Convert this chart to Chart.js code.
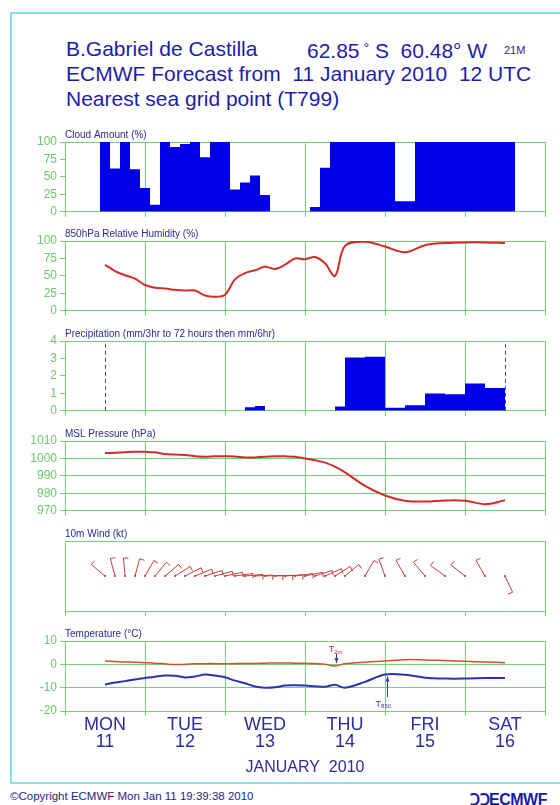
<!DOCTYPE html>
<html>
<head>
<meta charset="utf-8">
<title>ECMWF meteogram - B.Gabriel de Castilla</title>
<script src="https://cdn.jsdelivr.net/npm/chart.js@4.4.1/dist/chart.umd.min.js"></script>
<style>
  body { margin: 0; background: #fff; font-family: "Liberation Sans", Arial, sans-serif; }
  #page { position: relative; width: 560px; height: 805px; overflow: hidden; background: #fff; }
  #frame { position: absolute; left: 10px; top: 12px; width: 600px; height: 772px;
           border: 2px solid #88e2ea; box-sizing: border-box; }
  .hdr { position: absolute; font-size: 21px; line-height: 25px; color: #1d1da8; white-space: pre; }
  canvas { position: absolute; left: 0; }
  #copy { position: absolute; left: 10px; top: 790px; font-size: 11.5px; color: #1e1e7e; white-space: pre; }
  #logo { position: absolute; left: 470px; top: 788px; font-size: 16px; font-weight: bold;
          color: #1a1aa8; letter-spacing: -0.5px; }
</style>
</head>
<body>
<div id="page">
  <div id="frame"></div>
  <div class="hdr" style="left:66px; top:36px">B.Gabriel de Castilla</div>
  <div class="hdr" style="left:307px; top:36px">62.85<span style="font-size:14px; vertical-align:5px"> °</span> S  60.48° W</div>
  <div class="hdr" style="left:504px; top:38px; font-size:11px">21M</div>
  <div class="hdr" style="left:66px; top:61px">ECMWF Forecast from  11 January 2010  12 UTC</div>
  <div class="hdr" style="left:66px; top:86px">Nearest sea grid point (T799)</div>
  <div id="copy">©Copyright ECMWF Mon Jan 11 19:39:38 2010</div>
  <div id="logo">ↃↃECMWF</div>
</div>

<script>
// Meteogram values

// forecast steps (hours from 11 Jan 12 UTC): 3-hourly to 72h, then 6-hourly
const steps = [0, 3, 6, 9, 12, 15, 18, 21, 24, 27, 30, 33, 36, 39, 42, 45, 48, 51, 54, 57, 60,
  63, 66, 69, 72, 78, 84, 90, 96, 102, 108, 114, 120];
const BASE_HOUR = 12; // x axis counts hours from Mon 11 00 UTC

const cloudAmount = [100, 62, 100, 61, 34, 10, 100, 93, 97, 100, 78, 100, 100, 32, 42, 52, 24,
  0, 0, 0, 0, 7, 63, 100, 100, 100, 100, 15, 100, 100, 100, 100, 100];

const humidity850 = [66, 57, 51, 46, 37, 33, 32, 30, 29, 29, 22, 20, 23, 45, 54, 58, 63,
  60, 66, 75, 74, 77, 68, 50, 93, 99, 92, 84, 94, 97, 98, 98, 97];

// accumulation over the interval ending at each step
const precip = [0, 0, 0, 0, 0, 0, 0, 0, 0, 0, 0, 0, 0, 0, 0, 0.2, 0.28,
  0, 0, 0, 0, 0, 0, 0, 0.25, 3.05, 3.1, 0.17, 0.32, 0.99, 0.95, 1.56, 1.31];

const mslp = [1003.1, 1003.3, 1003.6, 1003.9, 1003.8, 1003.5, 1002.5, 1002.2, 1002.0, 1001.3,
  1001.0, 1001.2, 1001.2, 1001.1, 1000.6, 1000.6, 1001.0, 1001.2, 1001.2, 1001.0, 1000.0,
  999.0, 997.6, 995.3, 992.0, 984.3, 978.8, 975.8, 975.3, 975.9, 975.8, 973.8, 976.0];

const windDir = [310, 345, 355, 15, 30, 40, 50, 58, 63, 68, 72, 75, 78, 82, 85, 87, 88,
  88, 86, 82, 78, 72, 66, 58, 50, 30, 340, 330, 320, 306, 308, 330, 155];
const windSpeed = [10, 12, 12, 12, 12, 12, 12, 12, 12, 12, 12, 10, 10, 8, 8, 8, 8,
  8, 8, 10, 10, 10, 12, 12, 12, 12, 10, 12, 12, 12, 12, 12, 8];

const t2m = [1.4, 1.2, 1.0, 0.9, 0.7, 0.5, 0.2, -0.1, 0.0, 0.2, 0.3, 0.3, 0.2, 0.3, 0.4, 0.4, 0.5,
  0.6, 0.6, 0.5, 0.5, 0.3, 0.0, -0.7, 0.2, 0.9, 1.4, 2.0, 1.9, 1.6, 1.3, 1.0, 0.7];
const t850 = [-8.6, -7.8, -7.2, -6.5, -5.9, -5.3, -4.8, -4.9, -5.6, -5.2, -4.4, -4.8, -5.5, -7.0,
  -8.1, -9.5, -10.0, -9.8, -9.1, -9.0, -9.1, -9.4, -9.6, -8.8, -10.0, -7.5, -4.4, -4.5, -5.7,
  -6.1, -6.1, -5.9, -5.9];

const dayNames = ["MON", "TUE", "WED", "THU", "FRI", "SAT"];
const dayNums = ["11", "12", "13", "14", "15", "16"];
const monthLabel = "JANUARY  2010";

// ---- styling ----
Chart.defaults.font.family = '"Liberation Sans", Arial, sans-serif';
Chart.defaults.animation = false;
Chart.defaults.responsive = false;
Chart.defaults.devicePixelRatio = 1;
Chart.defaults.plugins.legend.display = false;
Chart.defaults.plugins.tooltip.enabled = false;

const GREEN = "#76d276";
const LABEL_GREEN = "#6cc86c";
const NAVY = "#2b2b92";
const DAY_BLUE = "#2d2d9c";
const CLEAR = "rgba(0,0,0,0)";

const xs = steps.map((s) => s + BASE_HOUR);
const pts = (vals) => xs.map((x, i) => ({ x: x, y: vals[i] }));

// bars centred on each step, edges half way to the neighbouring steps
function barEdges(times, vals) {
  const out = [];
  times.forEach((t, i) => {
    const prev = i > 0 ? times[i - 1] : t - (times[1] - times[0]);
    out.push({ x: (prev + t) / 2, y: vals[i] });
  });
  const n = times.length;
  out.push({ x: times[n - 1] + (times[n - 1] - times[n - 2]) / 2, y: vals[n - 1] });
  return out;
}

function panelTitle(text) {
  return {
    display: true, text: text, align: "start", fullSize: false, color: NAVY,
    font: { size: 10, weight: "normal" }, padding: { top: 4, bottom: 1 },
  };
}

function xScale(innerLines) {
  return {
    type: "linear", min: 0, max: 144,
    ticks: { stepSize: 24, display: false },
    grid: {
      color: (c) => (innerLines || c.tick.value === 0 || c.tick.value === 144 ? GREEN : CLEAR),
      tickColor: GREEN, tickLength: 5,
    },
    border: { color: GREEN },
    afterFit: (s) => { s.height = 10; },
  };
}

function yScale(min, max, step, allLines) {
  return {
    min: min, max: max,
    ticks: {
      stepSize: step, color: LABEL_GREEN, font: { size: 12 }, padding: 3,
      callback: (v) => String(v),
    },
    grid: {
      color: (c) => (allLines || c.tick.value === min || c.tick.value === max ? GREEN : CLEAR),
      tickColor: GREEN, tickLength: 5,
    },
    border: { color: GREEN },
    afterFit: (s) => { s.width = 65; },
  };
}

function makePanel(plotTop, height, cfg) {
  const cv = document.createElement("canvas");
  cv.width = 560;
  cv.height = height;
  cv.style.top = plotTop - 17 + "px";
  document.getElementById("page").appendChild(cv);
  cfg.options.layout = { padding: { left: 0, right: 15, top: 0, bottom: 0 } };
  return new Chart(cv, cfg);
}

// Cloud Amount
makePanel(142, 97, {
  type: "line",
  data: { datasets: [{
    data: barEdges(xs, cloudAmount), stepped: true, fill: "origin",
    backgroundColor: "#0000e8", borderWidth: 0, pointRadius: 0,
  }] },
  options: {
    plugins: { title: panelTitle("Cloud Amount (%)") },
    scales: { x: xScale(true), y: yScale(0, 100, 25, false) },
  },
});

// 850hPa Relative Humidity
makePanel(241, 97, {
  type: "line",
  data: { datasets: [{
    data: pts(humidity850), borderColor: "#d42a2a", borderWidth: 2, pointRadius: 0, tension: 0.35,
  }] },
  options: {
    plugins: { title: panelTitle("850hPa Relative Humidity (%)") },
    scales: { x: xScale(true), y: yScale(0, 100, 25, false) },
  },
});

// Precipitation, with dashed markers at first and last step
const forecastRange = {
  id: "forecastRange",
  beforeDatasetsDraw(chart) {
    const { ctx, chartArea, scales } = chart;
    ctx.save();
    ctx.strokeStyle = "#4c4c8c";
    ctx.lineWidth = 1;
    ctx.setLineDash([4, 3]);
    [xs[0], xs[xs.length - 1]].forEach((t) => {
      const px = Math.round(scales.x.getPixelForValue(t)) + 0.5;
      ctx.beginPath();
      ctx.moveTo(px, chartArea.bottom);
      ctx.lineTo(px, chartArea.top);
      ctx.stroke();
    });
    ctx.restore();
  },
};

makePanel(341, 97, {
  type: "line",
  data: { datasets: [{
    data: pts(precip), stepped: "after", fill: "origin",
    backgroundColor: "#0000e8", borderWidth: 0, pointRadius: 0,
  }] },
  options: {
    plugins: { title: panelTitle("Precipitation (mm/3hr to 72 hours then mm/6hr)") },
    scales: { x: xScale(true), y: yScale(0, 4, 1, false) },
  },
  plugins: [forecastRange],
});

// MSL Pressure
makePanel(441, 97, {
  type: "line",
  data: { datasets: [{
    data: pts(mslp), borderColor: "#d42a2a", borderWidth: 2, pointRadius: 0, tension: 0.35,
  }] },
  options: {
    plugins: { title: panelTitle("MSL Pressure (hPa)") },
    scales: { x: xScale(true), y: yScale(970, 1010, 10, true) },
  },
});

// 10m Wind barbs, drawn at each step's base point
const STAFF = 18;
const windBarbs = {
  id: "windBarbs",
  afterDatasetsDraw(chart) {
    const ctx = chart.ctx;
    const meta = chart.getDatasetMeta(0);
    ctx.save();
    ctx.strokeStyle = "#c83a3a";
    ctx.lineWidth = 1;
    meta.data.forEach((p, i) => {
      const a = (windDir[i] * Math.PI) / 180;
      const ux = Math.sin(a), uy = -Math.cos(a);
      const tx = p.x + ux * STAFF, ty = p.y + uy * STAFF;
      ctx.beginPath();
      ctx.moveTo(p.x, p.y);
      ctx.lineTo(tx, ty);
      // feathers on the clockwise side of the staff
      const b = a + (95 * Math.PI) / 180;
      const fx = Math.sin(b), fy = -Math.cos(b);
      let n = Math.round(windSpeed[i] / 5);
      let d = 0;
      while (n > 0) {
        const len = n >= 2 ? 5 : 3;
        const bx = tx - ux * d, by = ty - uy * d;
        ctx.moveTo(bx, by);
        ctx.lineTo(bx + fx * len, by + fy * len);
        n -= 2;
        d += 3;
      }
      ctx.stroke();
    });
    ctx.restore();
  },
};

const windY = yScale(-1, 1, 2, false);
windY.ticks.display = false;
windY.grid.drawTicks = false;

makePanel(541, 97, {
  type: "scatter",
  data: { datasets: [{
    data: xs.map((x) => ({ x: x, y: 0 })), pointRadius: 1, backgroundColor: "#a03030", borderWidth: 0,
  }] },
  options: {
    plugins: { title: panelTitle("10m Wind (kt)") },
    scales: { x: xScale(false), y: windY },
  },
  plugins: [windBarbs],
});

// Temperature, with T2m / T850 labels and arrows
const tempLabels = {
  id: "tempLabels",
  afterDatasetsDraw(chart) {
    const { ctx, scales } = chart;
    const X = (v) => scales.x.getPixelForValue(v);
    const Y = (v) => scales.y.getPixelForValue(v);
    ctx.save();
    function label(x, y, sub, color) {
      ctx.fillStyle = color;
      ctx.textBaseline = "middle";
      ctx.font = '9px "Liberation Sans", Arial, sans-serif';
      const w = ctx.measureText("T").width;
      ctx.font = '6px "Liberation Sans", Arial, sans-serif';
      const ws = ctx.measureText(sub).width;
      const x0 = x - (w + ws) / 2;
      ctx.font = '9px "Liberation Sans", Arial, sans-serif';
      ctx.fillText("T", x0, y);
      ctx.font = '6px "Liberation Sans", Arial, sans-serif';
      ctx.fillText(sub, x0 + w, y + 2);
    }
    function arrow(x, y0, y1, color) {
      const px = Math.round(x) + 0.5;
      ctx.strokeStyle = color;
      ctx.fillStyle = color;
      ctx.lineWidth = 1;
      ctx.beginPath();
      ctx.moveTo(px, y0);
      ctx.lineTo(px, y1);
      ctx.stroke();
      const dir = y1 > y0 ? 1 : -1;
      ctx.beginPath();
      ctx.moveTo(px, y1);
      ctx.lineTo(px - 2, y1 - dir * 5);
      ctx.lineTo(px + 2, y1 - dir * 5);
      ctx.closePath();
      ctx.fill();
    }
    label(X(81.2), Y(6.2), "2m", "#c03030");
    arrow(X(81.2), Y(4.6), Y(0.6), "#3a3a9a");
    label(X(95.5), Y(-17.2), "850", "#3a3a9a");
    arrow(X(96.5), Y(-14), Y(-5.2), "#3a3a9a");
    ctx.restore();
  },
};

const tempX = xScale(true);
tempX.ticks = {
  stepSize: 12, autoSkip: false, maxRotation: 0, minRotation: 0, padding: 0,
  color: DAY_BLUE, font: { size: 18, lineHeight: 0.95 },
  callback: (v) => (v % 24 === 12 ? [dayNames[(v - 12) / 24], dayNums[(v - 12) / 24]] : ""),
};
tempX.grid.color = (c) => (c.tick.value % 24 === 0 ? GREEN : CLEAR);
tempX.grid.tickColor = (c) => (c.tick.value % 24 === 0 ? GREEN : CLEAR);
tempX.title = {
  display: true, text: monthLabel, color: DAY_BLUE, font: { size: 16 },
  padding: { top: 0, bottom: 9 },
};
tempX.afterFit = (s) => { s.height = 75; };

makePanel(641, 162, {
  type: "line",
  data: { datasets: [
    { data: pts(t2m), borderColor: "#d4502c", borderWidth: 1.5, pointRadius: 0, tension: 0.35 },
    { data: pts(t850), borderColor: "#3030b0", borderWidth: 2, pointRadius: 0, tension: 0.35 },
  ] },
  options: {
    plugins: { title: panelTitle("Temperature (°C)") },
    scales: { x: tempX, y: yScale(-20, 10, 10, true) },
  },
  plugins: [tempLabels],
});
</script>
</body>
</html>
